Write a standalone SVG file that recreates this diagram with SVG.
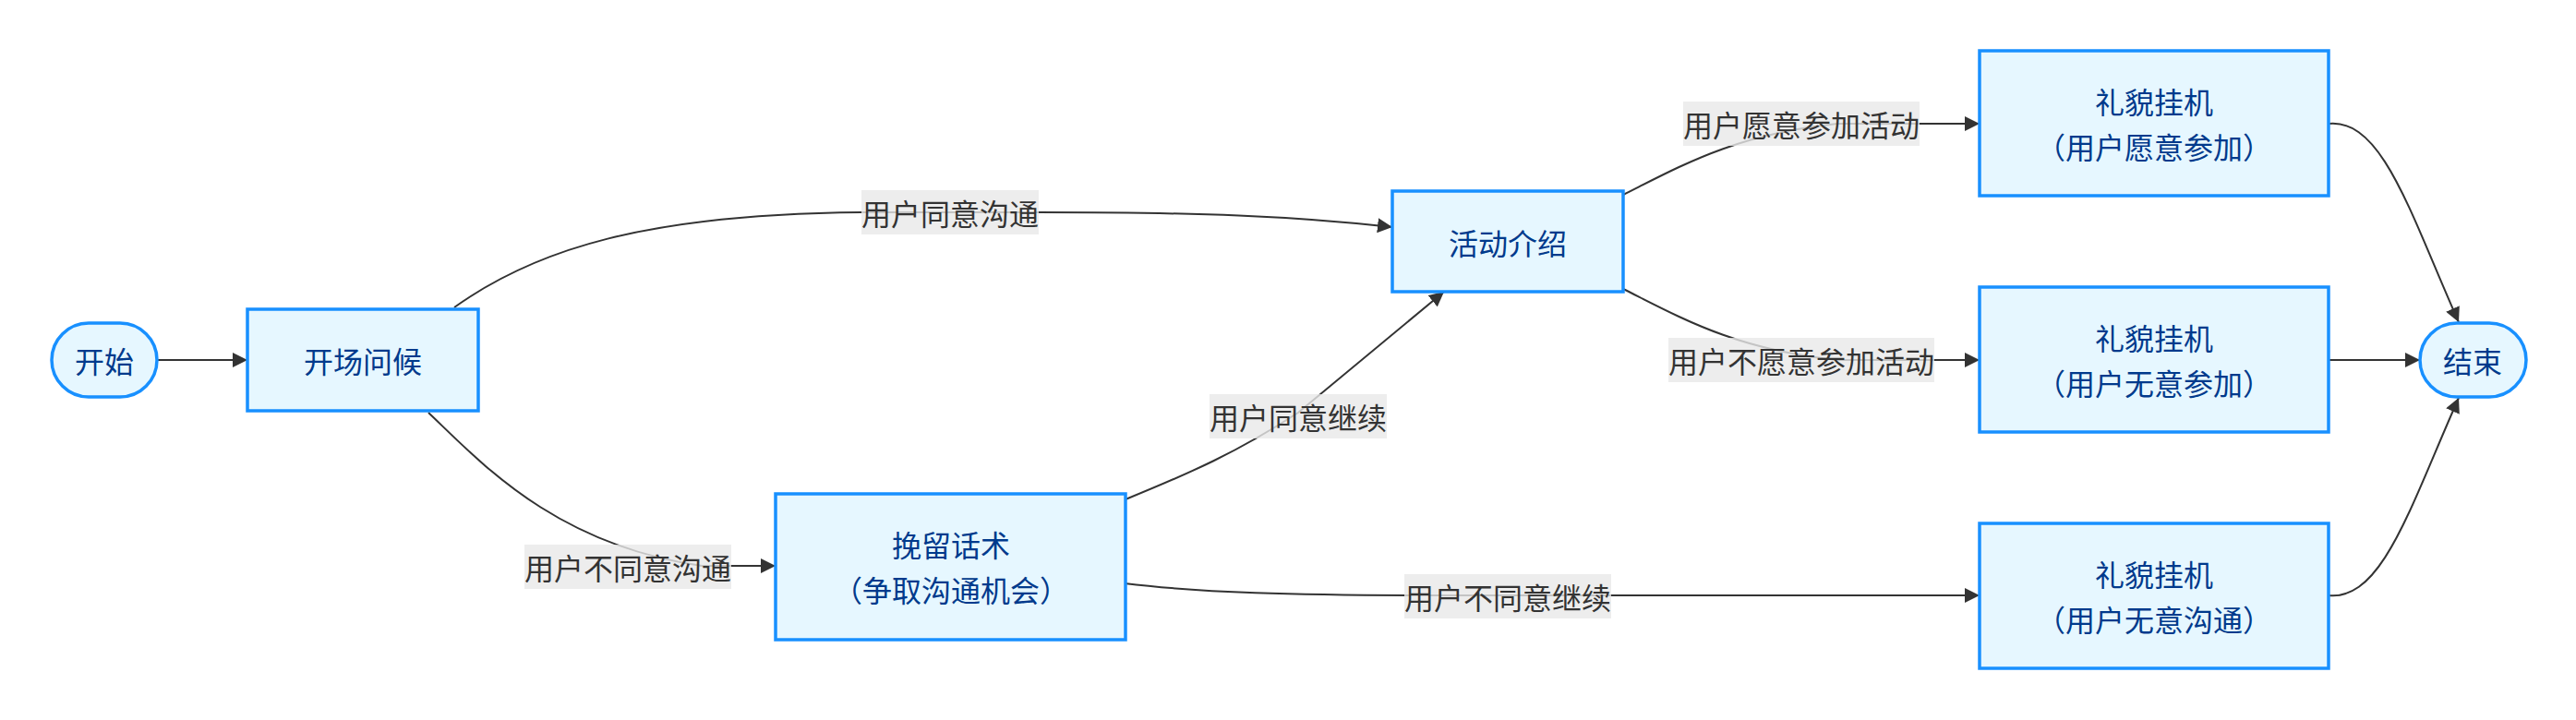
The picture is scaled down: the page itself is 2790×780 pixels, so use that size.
<svg xmlns="http://www.w3.org/2000/svg" width="2790" height="780" viewBox="0 0 2790 780">
<style>
  .node rect { fill: #e6f7ff; stroke: #1890ff; stroke-width: 3.5; }
  .node text { fill: #003a8c; font-family: "Noto Sans CJK SC", "Noto Sans", sans-serif; font-size: 32px; text-anchor: middle; dominant-baseline: central; }
  .edge { fill: none; stroke: #333333; stroke-width: 2; marker-end: url(#arrow); }
  .lbl rect { fill: rgba(232,232,232,0.8); }
  .lbl text { fill: #333333; font-family: "Noto Sans CJK SC", "Noto Sans", sans-serif; font-size: 32px; text-anchor: middle; dominant-baseline: central; }
</style>
<defs>
  <marker id="arrow" viewBox="0 0 10 10" refX="10" refY="5" markerWidth="16" markerHeight="16" markerUnits="userSpaceOnUse" orient="auto">
    <path d="M0,0 L10,5 L0,10 z" fill="#333333"/>
  </marker>
</defs>
<rect width="2790" height="780" fill="#ffffff"/>
<g id="connectors">
  <path class="edge" d="M170,390 L268,390"/>
  <path class="edge" d="M492,333 C580,270 700,232 933,230 L1125,230 C1300,230 1400,234 1508,246"/>
  <path class="edge" d="M464,447 C520,500 600,590 760,613 L840,613"/>
  <path class="edge" d="M1219,541 C1290,512 1340,490 1406,447 L1564,316"/>
  <path class="edge" d="M1758,211 C1820,180 1880,145 1990,134 L2144,134"/>
  <path class="edge" d="M1758,313 C1820,344 1880,379 1990,390 L2144,390"/>
  <path class="edge" d="M1218,632 C1300,642 1400,645 1560,645 L2144,645"/>
  <path class="edge" d="M2522,134 C2580,128 2610,230 2663,349"/>
  <path class="edge" d="M2522,390 L2621,390"/>
  <path class="edge" d="M2522,645 C2580,651 2610,550 2663,431"/>
</g>
<g id="edge-labels">
  <g class="lbl"><rect x="933" y="206" width="192" height="48"/><text x="1029" y="230">用户同意沟通</text></g>
  <g class="lbl"><rect x="568" y="590" width="224" height="48"/><text x="680" y="614">用户不同意沟通</text></g>
  <g class="lbl"><rect x="1310" y="427" width="192" height="48"/><text x="1406" y="451">用户同意继续</text></g>
  <g class="lbl"><rect x="1823" y="110" width="256" height="48"/><text x="1951" y="134">用户愿意参加活动</text></g>
  <g class="lbl"><rect x="1807" y="366" width="288" height="48"/><text x="1951" y="390">用户不愿意参加活动</text></g>
  <g class="lbl"><rect x="1521" y="622" width="224" height="48"/><text x="1633" y="646">用户不同意继续</text></g>
</g>
<g id="start" class="node"><rect x="56" y="350" width="114" height="80" rx="40" ry="40"/><text x="113" y="390">开始</text></g>
<g id="greet" class="node"><rect x="268" y="335" width="250" height="110"/><text x="393" y="390">开场问候</text></g>
<g id="retain" class="node"><rect x="840" y="535" width="379" height="158"/><text x="1030" y="589">挽留话术</text><text x="1030" y="638">（争取沟通机会）</text></g>
<g id="intro" class="node"><rect x="1508" y="207" width="250" height="109"/><text x="1633" y="262">活动介绍</text></g>
<g id="hangup1" class="node"><rect x="2144" y="55" width="378" height="157"/><text x="2333" y="109">礼貌挂机</text><text x="2333" y="158">（用户愿意参加）</text></g>
<g id="hangup2" class="node"><rect x="2144" y="311" width="378" height="157"/><text x="2333" y="365">礼貌挂机</text><text x="2333" y="414">（用户无意参加）</text></g>
<g id="hangup3" class="node"><rect x="2144" y="567" width="378" height="157"/><text x="2333" y="621">礼貌挂机</text><text x="2333" y="670">（用户无意沟通）</text></g>
<g id="end" class="node"><rect x="2621" y="350" width="115" height="80" rx="40" ry="40"/><text x="2678" y="390">结束</text></g>
</svg>
